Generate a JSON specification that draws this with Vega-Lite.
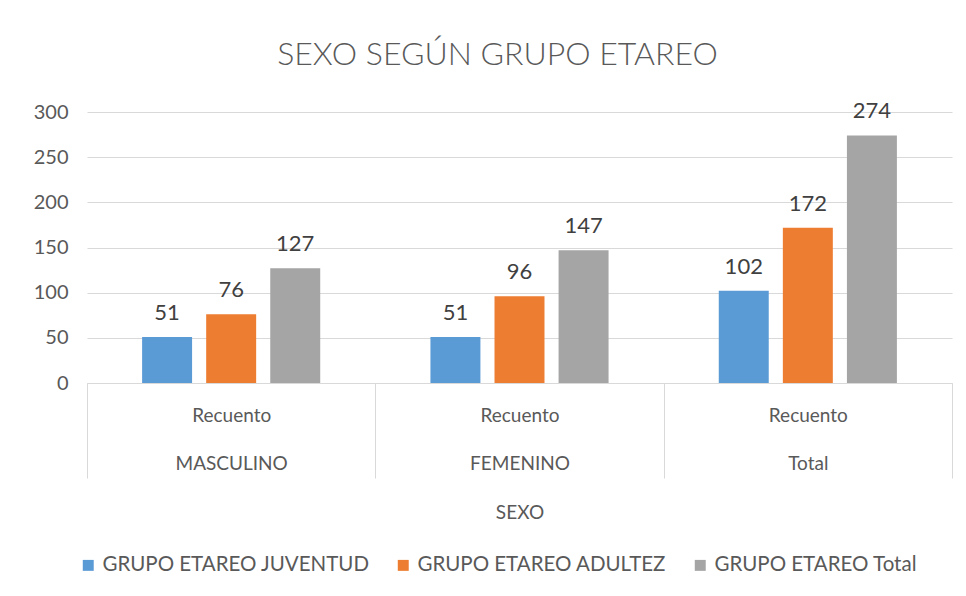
{
  "$schema": "https://vega.github.io/schema/vega-lite/v6.json",
  "autosize": "none",
  "width": 865,
  "height": 271,
  "padding": {"left": 87, "top": 112, "right": 14, "bottom": 213},
  "background": "white",
  "title": {
    "text": "SEXO SEGÚN GRUPO ETAREO",
    "font": "Lato",
    "fontSize": 32,
    "fontWeight": 300,
    "color": "#595959",
    "anchor": "middle",
    "offset": 28,
    "dx": -22
  },
  "data": {
    "values": [
      {"sexo": "MASCULINO", "grupo": "GRUPO ETAREO JUVENTUD", "valor": 51},
      {"sexo": "MASCULINO", "grupo": "GRUPO ETAREO ADULTEZ", "valor": 76},
      {"sexo": "MASCULINO", "grupo": "GRUPO ETAREO Total", "valor": 127},
      {"sexo": "FEMENINO", "grupo": "GRUPO ETAREO JUVENTUD", "valor": 51},
      {"sexo": "FEMENINO", "grupo": "GRUPO ETAREO ADULTEZ", "valor": 96},
      {"sexo": "FEMENINO", "grupo": "GRUPO ETAREO Total", "valor": 147},
      {"sexo": "Total", "grupo": "GRUPO ETAREO JUVENTUD", "valor": 102},
      {"sexo": "Total", "grupo": "GRUPO ETAREO ADULTEZ", "valor": 172},
      {"sexo": "Total", "grupo": "GRUPO ETAREO Total", "valor": 274}
    ]
  },
  "encoding": {
    "x": {
      "field": "sexo",
      "type": "nominal",
      "sort": ["MASCULINO", "FEMENINO", "Total"],
      "scale": {"paddingInner": 0, "paddingOuter": 0},
      "title": "SEXO",
      "axis": {
        "labelAngle": 0,
        "labelExpr": "isValid(datum.value) ? ['Recuento', datum.value] : ''",
        "labelLineHeight": 48,
        "labelFont": "Lato",
        "labelFontSize": 19,
        "labelColor": "#595959",
        "labelPadding": -72,
        "labelBaseline": "top",
        "tickBand": "extent",
        "tickSize": 95,
        "tickColor": "#d9d9d9",
        "domainColor": "#d9d9d9",
        "titleFont": "Lato",
        "titleFontSize": 19,
        "titleFontWeight": "normal",
        "titleColor": "#595959",
        "titlePadding": 25
      }
    },
    "xOffset": {
      "field": "grupo",
      "type": "nominal",
      "sort": ["GRUPO ETAREO JUVENTUD", "GRUPO ETAREO ADULTEZ", "GRUPO ETAREO Total"],
      "scale": {"paddingInner": 0.22, "paddingOuter": 0.86}
    },
    "y": {
      "field": "valor",
      "type": "quantitative",
      "scale": {"domain": [0, 300]},
      "title": null,
      "axis": {
        "values": [0, 50, 100, 150, 200, 250, 300],
        "domain": false,
        "ticks": false,
        "gridColor": "#d9d9d9",
        "labelFont": "Lato",
        "labelFontSize": 20,
        "labelColor": "#595959",
        "labelPadding": 19
      }
    }
  },
  "layer": [
    {
      "mark": {"type": "bar"},
      "encoding": {
        "color": {
          "field": "grupo",
          "type": "nominal",
          "sort": ["GRUPO ETAREO JUVENTUD", "GRUPO ETAREO ADULTEZ", "GRUPO ETAREO Total"],
          "scale": {
            "domain": ["GRUPO ETAREO JUVENTUD", "GRUPO ETAREO ADULTEZ", "GRUPO ETAREO Total"],
            "range": ["#5B9BD5", "#ED7D31", "#A5A5A5"]
          },
          "legend": {
            "title": null,
            "orient": "none",
            "legendX": -9,
            "legendY": 443,
            "direction": "horizontal",
            "symbolType": "square",
            "symbolSize": 120,
            "symbolStrokeWidth": 0,
            "labelFont": "Lato",
            "labelFontSize": 20.5,
            "labelColor": "#595959",
            "labelLimit": 400,
            "columnPadding": 23
          }
        }
      }
    },
    {
      "mark": {"type": "text", "baseline": "bottom", "dy": -12, "font": "Lato", "fontSize": 22, "color": "#404040"},
      "encoding": {"text": {"field": "valor", "type": "quantitative"}}
    }
  ],
  "config": {"view": {"stroke": null}}
}
